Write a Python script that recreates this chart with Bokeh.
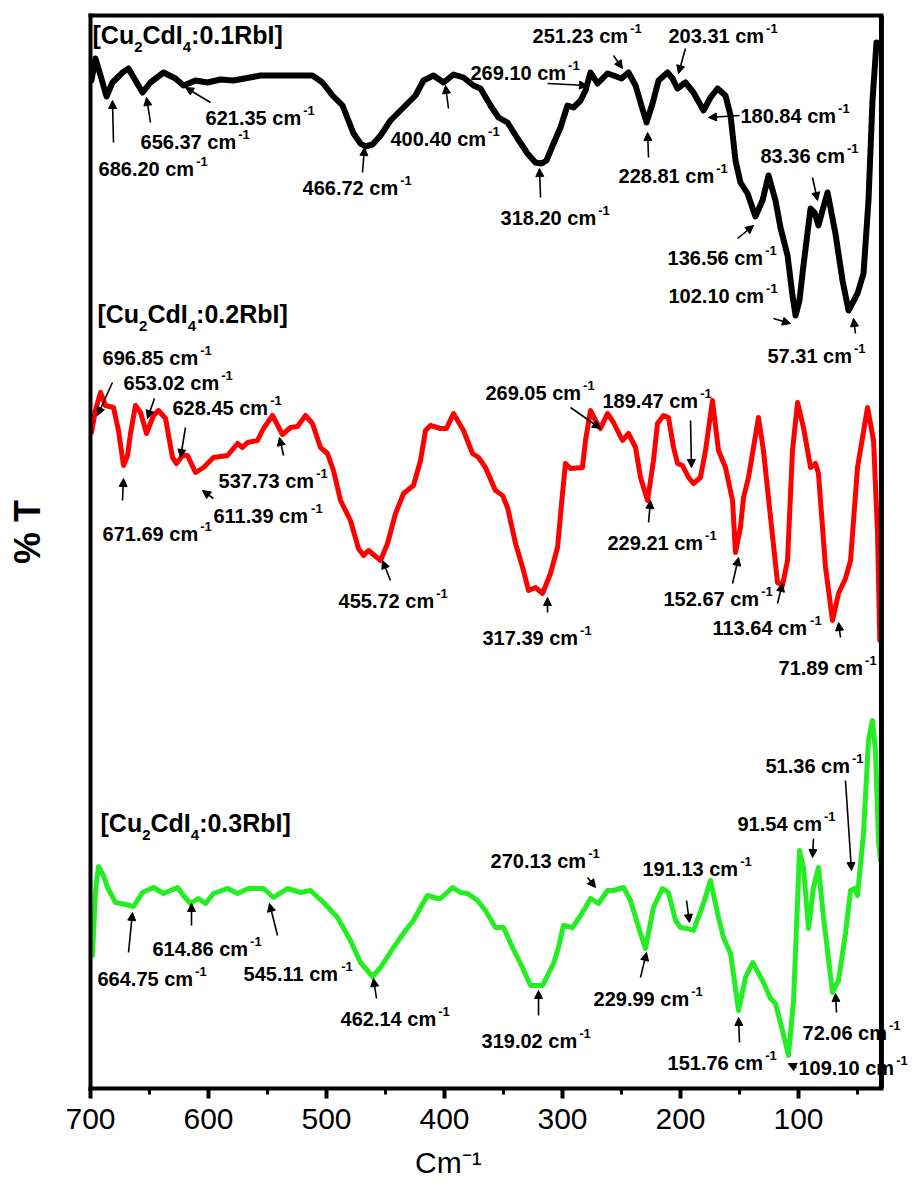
import math
from bokeh.plotting import figure
from bokeh.models import (Range1d, ColumnDataSource, Arrow, NormalHead, LinearAxis,
                          LabelSet, FixedTicker, Span)
from bokeh.core.properties import value
from bokeh.embed import file_html
from bokeh.resources import INLINE

# ---------------- data (wavenumber in cm-1, transmittance in arbitrary offset units) -------------
black_wn = [699.2, 695.8, 691.5, 686.4, 681.4, 677.1, 672.9, 667.8, 661.9, 655.9, 649.2, 638.1,
            628.0, 621.2, 611.0, 600.8, 589.8, 578.8, 555.9, 536.4, 511.9, 503.4, 494.9, 486.4,
            477.1, 471.2, 467.0, 461.0, 454.2, 445.8, 431.4, 424.6, 417.8, 409.3, 400.8, 392.4,
            383.9, 375.4, 369.5, 361.0, 354.2, 346.6, 338.1, 329.7, 322.9, 317.8, 313.6, 307.6,
            301.7, 295.8, 290.7, 284.7, 280.5, 276.3, 270.3, 261.9, 256.8, 250.0, 244.1, 238.1,
            233.1, 228.8, 223.7, 218.6, 211.0, 206.8, 202.6, 195.8, 189.0, 180.5, 174.6, 168.6,
            161.9, 157.6, 153.4, 149.2, 143.2, 136.5, 130.5, 125.4, 119.5, 115.3, 109.3, 105.1,
            102.5, 99.2, 95.8, 89.8, 86.4, 83.1, 79.7, 75.4, 68.7, 62.7, 57.6, 50.0, 44.9, 40.7,
            37.3, 33.9]
black_t = [1008, 1030, 1013, 992, 1006, 1011, 1016, 1020, 1008, 996, 1006, 1016,
           1010, 1003, 1008, 1006, 1009, 1008, 1013, 1013, 1013, 1006, 993, 983,
           955, 945, 942, 944, 953, 968, 985, 993, 1008, 1013, 1006, 1014,
           1011, 1003, 1000, 983, 971, 966, 950, 935, 926, 925, 928, 945,
           961, 983, 981, 988, 998, 1016, 1005, 1015, 1013, 1010, 1016, 1003,
           983, 966, 985, 1008, 1016, 1010, 1000, 1006, 996, 978, 991, 1000,
           993, 973, 928, 906, 895, 872, 888, 913, 888, 861, 833, 793,
           773, 788, 823, 880, 876, 863, 878, 896, 855, 808, 778, 795, 815, 888,
           988, 1046]

red_wn = [699.2, 695.8, 691.5, 687.3, 680.5, 676.3, 672.0, 668.6, 666.1, 661.9, 657.6, 652.5,
          646.6, 642.4, 636.4, 630.5, 627.1, 622.0, 617.8, 611.0, 604.2, 595.8, 583.9, 575.4,
          571.2, 566.9, 558.5, 553.4, 545.8, 537.3, 530.5, 524.6, 517.8, 511.9, 505.1, 499.2,
          494.1, 488.1, 479.7, 472.9, 468.6, 464.4, 459.3, 454.2, 448.3, 441.5, 434.7, 426.3,
          420.3, 416.1, 411.9, 403.4, 398.3, 392.4, 383.9, 376.3, 371.2, 365.3, 356.8, 350.8,
          346.6, 339.8, 333.1, 328.8, 322.9, 316.9, 310.2, 304.2, 300.0, 297.5, 293.2, 283.1,
          280.5, 276.3, 272.0, 267.8, 261.9, 256.8, 249.2, 244.1, 238.1, 233.9, 227.9, 222.9,
          219.5, 214.4, 210.2, 205.9, 202.5, 198.3, 193.2, 189.0, 183.1, 178.8, 172.9, 167.8,
          161.9, 155.9, 153.4, 149.2, 146.6, 142.4, 133.9, 129.7, 123.7, 117.8, 113.6, 109.3,
          105.1, 100.8, 95.8, 89.8, 85.6, 83.1, 77.1, 71.2, 66.1, 60.2, 55.9, 50.0, 41.5, 36.4,
          33.0, 31.1]
red_t = [656, 678, 696, 683, 681, 658, 623, 633, 655, 683, 676, 655,
         673, 678, 670, 631, 625, 633, 633, 616, 621, 631, 633, 645,
         641, 646, 648, 660, 673, 654, 661, 662, 673, 665, 641, 635,
         618, 588, 568, 540, 533, 538, 533, 528, 545, 575, 595, 603,
         628, 658, 663, 660, 660, 675, 658, 635, 631, 621, 598, 593,
         581, 545, 518, 498, 501, 495, 515, 541, 595, 625, 620, 621,
         648, 678, 668, 660, 675, 666, 648, 655, 641, 611, 588, 628,
         665, 673, 671, 641, 625, 623, 611, 605, 611, 638, 688, 638,
         621, 588, 536, 561, 591, 611, 671, 638, 571, 506, 503, 528,
         638, 686, 661, 621, 625, 615, 521, 468, 495, 510, 528, 621, 681, 648,
         555, 448]

green_wn = [698.3, 695.8, 693.2, 689.0, 685.6, 678.8, 670.3, 663.6, 655.9, 646.6, 638.1, 626.3,
            621.2, 615.3, 608.5, 602.5, 595.8, 583.9, 575.4, 566.1, 553.4, 544.9, 533.1, 522.0,
            513.6, 502.5, 490.7, 479.7, 471.2, 461.0, 454.2, 443.2, 433.1, 426.3, 420.3, 414.4,
            405.9, 403.4, 393.2, 386.4, 380.5, 372.0, 365.3, 356.8, 350.0, 342.4, 335.6, 327.1,
            316.9, 307.6, 303.4, 299.2, 291.5, 284.7, 280.5, 276.3, 269.5, 261.9, 256.8, 248.3,
            242.4, 233.9, 229.7, 222.9, 215.3, 210.2, 204.2, 200.0, 194.1, 189.0, 180.5, 174.6,
            168.6, 163.6, 157.6, 150.8, 144.9, 138.9, 130.5, 123.7, 119.5, 113.6, 108.5, 104.2,
            100.8, 99.2, 95.8, 91.5, 87.3, 83.1, 78.8, 71.2, 66.1, 60.2, 55.9, 52.5, 50.0, 44.9,
            40.7, 37.3, 34.8, 32.2, 30.5]
green_t = [133, 198, 222, 213, 201, 186, 184, 182, 196, 201, 195, 201,
           193, 185, 190, 185, 195, 200, 195, 200, 200, 191, 200, 196,
           198, 186, 171, 148, 126, 112, 121, 141, 158, 168, 181, 193,
           190, 190, 201, 196, 195, 188, 178, 161, 161, 141, 125, 103,
           103, 125, 141, 163, 161, 173, 181, 190, 185, 198, 198, 201,
           188, 155, 140, 181, 200, 196, 168, 161, 160, 158, 185, 208,
           175, 151, 135, 78, 111, 126, 108, 90, 85, 58, 33, 88,
           188, 238, 221, 160, 201, 221, 171, 96, 108, 155, 198, 200, 193, 255,
           348, 368, 338, 248, 228]

# peak labels (text values) for each spectrum
black_peaks = ["686.20", "656.37", "621.35", "466.72", "400.40", "269.10", "251.23", "203.31",
               "180.84", "228.81", "318.20", "83.36", "136.56", "102.10", "57.31"]
red_peaks = ["696.85", "653.02", "628.45", "671.69", "611.39", "537.73", "455.72", "317.39",
             "269.05", "189.47", "229.21", "152.67", "113.64", "71.89"]
green_peaks = ["664.75", "614.86", "545.11", "462.14", "270.13", "191.13", "229.99", "319.02",
               "151.76", "109.10", "72.06", "91.54", "51.36"]

# annotation placement (data units): label anchor and arrow start/end
black_lab_pos = [(693.2, 920), (657.6, 947), (602.5, 971), (520.3, 901), (445.8, 950),
                 (378.0, 1016), (325.4, 1053), (210.2, 1053), (149.2, 973), (252.5, 913),
                 (352.5, 871), (132.2, 933), (211.0, 831), (210.2, 793), (126.3, 733)]
black_arrows = [(680.5, 946, 681.4, 988), (649.2, 966, 652.5, 991), (598.3, 986, 619.5, 1001),
                (469.5, 916, 467.8, 941), (396.6, 980, 399.2, 1003), (312.7, 1005, 278.8, 1003),
                (256.8, 1033, 249.2, 1020), (195.8, 1040, 201.7, 1015), (150.0, 973, 176.3, 971),
                (227.1, 931, 227.9, 956), (318.6, 891, 319.5, 920), (88.1, 911, 83.9, 888),
                (151.7, 850, 138.1, 863), (121.2, 770, 106.8, 765), (51.7, 755, 53.4, 770)]
red_lab_pos = [(689.8, 731), (672.0, 706), (630.5, 681), (689.8, 555), (595.8, 573),
               (591.5, 608), (489.8, 488), (367.8, 451), (365.3, 696), (266.1, 688),
               (261.9, 546), (214.4, 490), (172.9, 461), (116.9, 421)]
red_arrows = [(681.4, 706, 694.1, 673), (645.8, 690, 651.7, 670), (619.5, 661, 623.7, 631),
              (672.9, 588, 672.0, 610), (595.8, 590, 605.1, 598), (536.4, 633, 539.8, 651),
              (445.8, 508, 452.5, 528), (312.7, 476, 312.7, 491), (293.2, 681, 267.8, 660),
              (191.5, 668, 190.7, 621), (227.1, 566, 225.4, 588), (155.9, 505, 150.8, 531),
              (117.8, 485, 113.6, 505), (64.4, 451, 66.1, 466)]
green_lab_pos = [(694.1, 110), (647.5, 140), (570.3, 115), (488.1, 70), (361.0, 228),
                 (232.2, 220), (273.7, 90), (368.6, 48), (211.0, 26), (100.0, 21),
                 (96.6, 56), (151.7, 265), (128.0, 323)]
green_arrows = [(667.8, 136, 664.4, 176), (614.4, 163, 614.4, 185), (541.5, 153, 548.3, 185),
                (457.6, 90, 460.2, 110), (278.8, 211, 272.0, 201), (194.9, 188, 192.4, 166),
                (233.9, 111, 228.8, 136), (320.3, 73, 320.3, 98), (150.0, 46, 150.8, 71),
                (101.7, 21, 108.7, 25), (67.8, 76, 68.6, 95), (87.3, 250, 88.1, 231),
                (60.2, 308, 55.1, 218)]

titles = [("0.1", 698.3, 1054), ("0.2", 694.1, 775), ("0.3", 691.5, 266)]

x_ticks = [700, 600, 500, 400, 300, 200, 100]
x_minor = [650, 550, 450, 350, 250, 150, 50]
x_lo, x_hi = 29.7, 700

# ---------------- figure ----------------
FONT = "Liberation Sans"
CW = {"0": .556, "1": .556, "2": .556, "3": .556, "4": .556, "5": .556, "6": .556, "7": .556,
      "8": .556, "9": .556, ".": .278, " ": .278, "c": .556, "m": .889, "[": .333, "]": .333,
      "C": .722, "u": .611, "d": .611, "I": .278, ":": .333, "R": .722, "b": .611}


def tw(s, size):
    return sum(CW.get(ch, .556) for ch in s) * size


NB = "\u00a0"

p = figure(width=914, height=1185, output_backend="svg", toolbar_location=None,
           x_range=Range1d(700, 1.7), y_range=Range1d(0, 1073),
           min_border_left=90, min_border_right=0, min_border_top=15, min_border_bottom=97)
p.xgrid.visible = False
p.ygrid.visible = False
p.outline_line_color = None
p.background_fill_color = "white"
p.border_fill_color = "white"

xa = p.xaxis[0]
xa.bounds = (x_lo, x_hi)
xa.ticker = FixedTicker(ticks=x_ticks, minor_ticks=x_minor)
xa.axis_line_width = 4
xa.axis_line_cap = "square"
xa.major_tick_line_width = 4
xa.major_tick_out = 10
xa.major_tick_in = 0
xa.minor_tick_line_width = 3
xa.minor_tick_out = 6
xa.minor_tick_in = 0
xa.major_label_text_font = FONT
xa.major_label_text_font_size = "30px"
xa.major_label_text_color = "black"
xa.major_label_standoff = 10
xa.axis_label = "Cm\u207b\u00b9" + NB * 13
xa.axis_label_text_font = FONT
xa.axis_label_text_font_size = "30px"
xa.axis_label_text_font_style = "normal"
xa.axis_label_text_color = "black"
xa.axis_label_standoff = 14

ya = p.yaxis[0]
ya.ticker = FixedTicker(ticks=[])
ya.axis_line_width = 4
ya.axis_line_cap = "square"
ya.major_tick_out = 0
ya.major_tick_in = 0
ya.minor_tick_out = 0
ya.minor_tick_in = 0
ya.major_label_text_font_size = "0px"
ya.axis_label = NB * 4 + "% T"
ya.axis_label_text_font = FONT
ya.axis_label_text_font_size = "36px"
ya.axis_label_text_font_style = "bold"
ya.axis_label_text_color = "black"
ya.axis_label_standoff = 43

top = LinearAxis(bounds=(x_lo, x_hi), ticker=FixedTicker(ticks=[]), axis_line_width=4,
                 axis_line_cap="square", major_tick_out=0, major_tick_in=0,
                 minor_tick_out=0, minor_tick_in=0, major_label_text_font_size="0px")
p.add_layout(top, "above")
p.add_layout(Span(location=x_lo, dimension="height", line_color="black", line_width=5))

series = [
    (black_wn, black_t, "black", 6, black_peaks, black_lab_pos, black_arrows),
    (red_wn, red_t, "#ff0000", 5, red_peaks, red_lab_pos, red_arrows),
    (green_wn, green_t, "#22ee22", 5, green_peaks, green_lab_pos, green_arrows),
]

for wn, t, col, lw, peaks, lpos, arrs in series:
    p.line(wn, t, line_color=col, line_width=lw, line_join="round", line_cap="round")

    main = ColumnDataSource(dict(
        x=[q[0] for q in lpos], y=[q[1] for q in lpos],
        text=[s + " cm" for s in peaks]))
    sup = ColumnDataSource(dict(
        x=[q[0] for q in lpos], y=[q[1] + 7 for q in lpos],
        text=["-1"] * len(peaks),
        xo=[tw(s + " cm", 20) + 2 for s in peaks]))
    p.add_layout(LabelSet(x="x", y="y", text="text", source=main,
                          text_font=value(FONT), text_font_style="bold",
                          text_font_size="20px", text_color="black",
                          text_baseline="middle", text_align="left"))
    p.add_layout(LabelSet(x="x", y="y", text="text", x_offset="xo", source=sup,
                          text_font=value(FONT), text_font_style="bold",
                          text_font_size="13px", text_color="black",
                          text_baseline="middle", text_align="left"))
    asrc = ColumnDataSource(dict(xs=[a[0] for a in arrs], ys=[a[1] for a in arrs],
                                 xe=[a[2] for a in arrs], ye=[a[3] for a in arrs]))
    p.add_layout(Arrow(end=NormalHead(size=8, fill_color="black", line_color="black",
                                      line_width=1),
                       x_start="xs", y_start="ys", x_end="xe", y_end="ye", source=asrc,
                       line_color="black", line_width=1.6))

# sample titles [Cu2CdI4:xRbI]
tm = dict(x=[], y=[], text=[], xo=[])
ts = dict(x=[], y=[], text=[], xo=[])
for frac, tx, ty in titles:
    pieces = [("[Cu", False), ("2", True), ("CdI", False), ("4", True), (":" + frac + "RbI]", False)]
    off = 0.0
    for s, is_sub in pieces:
        d = ts if is_sub else tm
        d["x"].append(tx)
        d["y"].append(ty - 12 if is_sub else ty)
        d["text"].append(s)
        d["xo"].append(off)
        off += tw(s, 15 if is_sub else 25)
p.add_layout(LabelSet(x="x", y="y", text="text", x_offset="xo", source=ColumnDataSource(tm),
                      text_font=value(FONT), text_font_style="bold", text_font_size="25px",
                      text_color="black", text_baseline="middle", text_align="left"))
p.add_layout(LabelSet(x="x", y="y", text="text", x_offset="xo", source=ColumnDataSource(ts),
                      text_font=value(FONT), text_font_style="bold", text_font_size="15px",
                      text_color="black", text_baseline="middle", text_align="left"))

open("out.html", "w").write(file_html(p, INLINE))
